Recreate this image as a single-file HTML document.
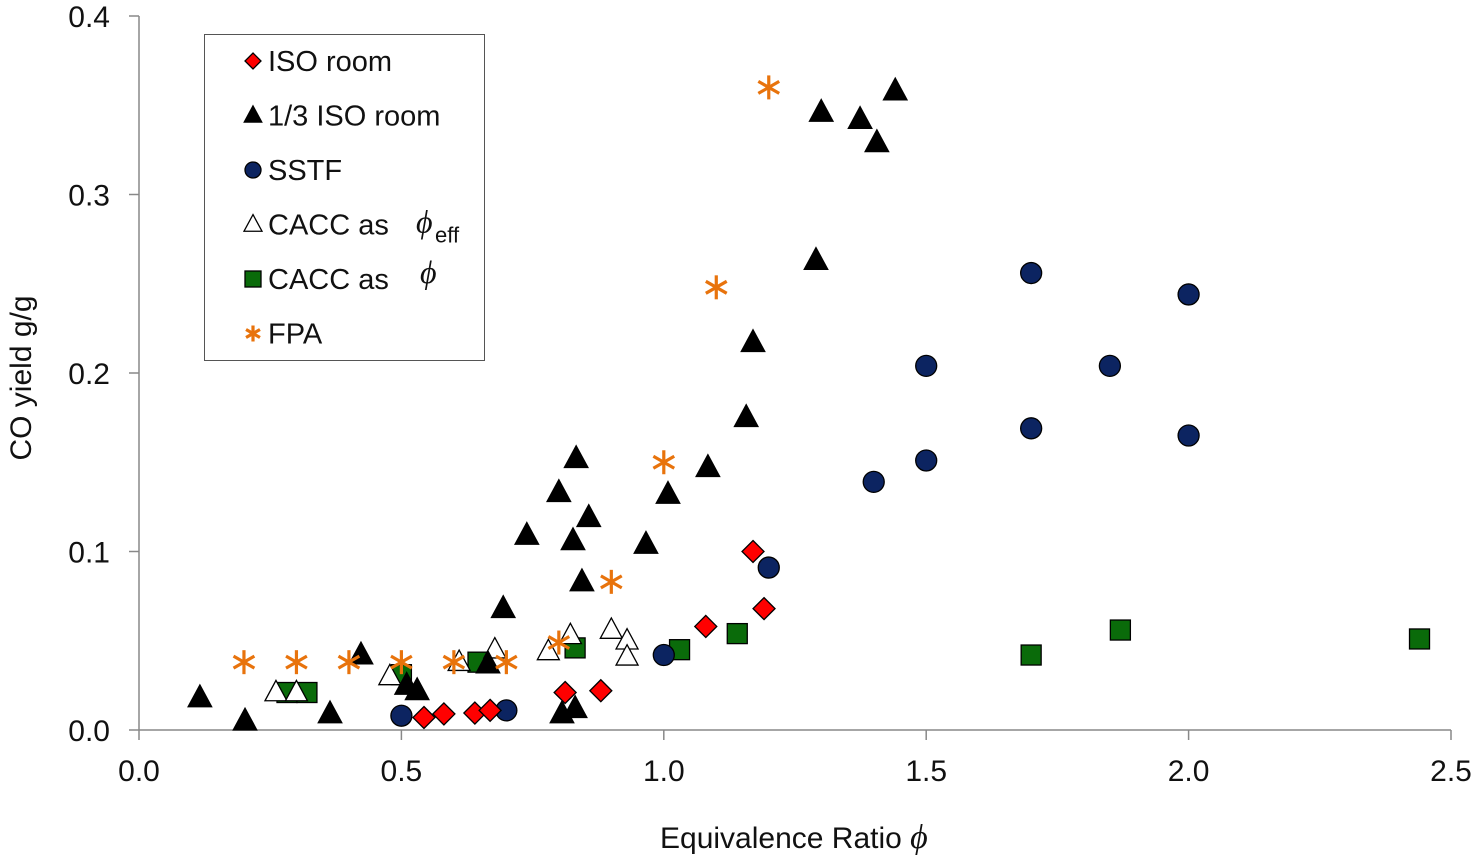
<!DOCTYPE html>
<html><head><meta charset="utf-8"><style>
html,body{margin:0;padding:0;background:#fff;}
svg{display:block;font-family:"Liberation Sans",sans-serif;}
</style></head><body>
<svg id="chart" width="1475" height="858" viewBox="0 0 1475 858" xmlns="http://www.w3.org/2000/svg">
<g id="axes"></g>
<g id="marks"></g>
<text transform="translate(31,378) rotate(-90)" text-anchor="middle" font-size="30" fill="#111">CO yield g/g</text>
<text x="660" y="848" font-size="30" fill="#111">Equivalence Ratio <tspan font-family="Liberation Serif" font-style="italic" font-size="34">ϕ</tspan></text>
<g>
<rect x="204.5" y="34.5" width="280" height="326" fill="#fff" stroke="#555" stroke-width="1"/>
<g id="legend-items"></g>
</g>
</svg>
<script>
const xTicks=[0.0,0.5,1.0,1.5,2.0,2.5];
const yTicks=[0.0,0.1,0.2,0.3,0.4];
const xTickLabels=["0.0","0.5","1.0","1.5","2.0","2.5"];
const yTickLabels=["0.0","0.1","0.2","0.3","0.4"];

const isoX=[0.543,0.581,0.640,0.669,0.812,0.880,1.080,1.170,1.191];
const isoY=[0.007,0.009,0.0095,0.011,0.021,0.022,0.058,0.100,0.068];

const thirdX=[0.116,0.202,0.364,0.423,0.51,0.53,0.665,0.694,0.739,0.800,0.827,0.833,0.844,0.857,0.806,0.831,0.966,1.008,1.084,1.157,1.170,1.290,1.300,1.374,1.406,1.441];
const thirdY=[0.018,0.005,0.009,0.042,0.025,0.022,0.037,0.068,0.109,0.133,0.106,0.152,0.083,0.119,0.009,0.012,0.104,0.132,0.147,0.175,0.217,0.263,0.346,0.342,0.329,0.358];

const sstfX=[0.50,0.70,1.0,1.2,1.40,1.5,1.5,1.7,1.7,1.85,2.0,2.0];
const sstfY=[0.008,0.011,0.042,0.091,0.139,0.151,0.204,0.169,0.256,0.204,0.165,0.244];

const caccEffX=[0.261,0.30,0.478,0.61,0.678,0.78,0.822,0.90,0.93,0.93];
const caccEffY=[0.021,0.021,0.030,0.038,0.045,0.044,0.053,0.056,0.050,0.041];

const caccX=[0.282,0.32,0.50,0.646,0.831,1.03,1.14,1.70,1.87,2.44];
const caccY=[0.021,0.021,0.031,0.038,0.046,0.045,0.054,0.042,0.056,0.051];

const fpaX=[0.2,0.3,0.4,0.5,0.6,0.7,0.8,0.9,1.0,1.1,1.2];
const fpaY=[0.038,0.038,0.038,0.038,0.038,0.038,0.049,0.083,0.150,0.248,0.360];

const NS="http://www.w3.org/2000/svg";
const X0=139,X1=1451,Y0=730,Y1=16;
const sx=v=>X0+(v-0)/(2.5-0)*(X1-X0);
const sy=v=>Y0-(v-0)/(0.4-0)*(Y0-Y1);
function mk(tag,attrs,parent){const e=document.createElementNS(NS,tag);for(const k in attrs)e.setAttribute(k,attrs[k]);parent.appendChild(e);return e;}

const axes=document.getElementById('axes');
let l=mk('line',{x1:X0,y1:Y1,x2:X0,y2:Y0,stroke:'#888','stroke-width':1.5},axes);


l=mk('line',{x1:X0,y1:Y0,x2:X1,y2:Y0,stroke:'#888','stroke-width':1.5},axes);


xTicks.forEach((t,i)=>{
  const tk=mk('line',{x1:sx(t),y1:Y0,x2:sx(t),y2:Y0+10,stroke:'#888','stroke-width':1.5},axes);
  
  
  const tx=mk('text',{x:sx(t),y:Y0+51,'text-anchor':'middle','font-size':30,fill:'#111'},axes);
  tx.textContent=xTickLabels[i];
  
  
});
yTicks.forEach((t,i)=>{
  const tk=mk('line',{x1:X0-10,y1:sy(t),x2:X0,y2:sy(t),stroke:'#888','stroke-width':1.5},axes);
  
  
  const tx=mk('text',{x:X0-29,y:sy(t)+11,'text-anchor':'end','font-size':30,fill:'#111'},axes);
  tx.textContent=yTickLabels[i];
  
  
});

function marker(type,cx,cy,s,parent){
  let e;
  if(type==='diamond'){e=mk('polygon',{points:`${cx},${cy-s} ${cx+s},${cy} ${cx},${cy+s} ${cx-s},${cy}`,fill:'#ff0000',stroke:'#000','stroke-width':1.3},parent);}
  else if(type==='tri'){e=mk('polygon',{points:`${cx},${cy-s*1.1} ${cx+s},${cy+s*0.75} ${cx-s},${cy+s*0.75}`,fill:'#000',stroke:'#000','stroke-width':1},parent);}
  else if(type==='otri'){e=mk('polygon',{points:`${cx},${cy-s*1.1} ${cx+s},${cy+s*0.75} ${cx-s},${cy+s*0.75}`,fill:'#fff',stroke:'#000','stroke-width':1.3},parent);}
  else if(type==='circle'){e=mk('circle',{cx:cx,cy:cy,r:s,fill:'#0c2461',stroke:'#000','stroke-width':1.3},parent);}
  else if(type==='square'){e=mk('rect',{x:cx-s,y:cy-s,width:2*s,height:2*s,fill:'#0a6b0a',stroke:'#000','stroke-width':1.3},parent);}
  else {const g=mk('g',{stroke:'#e8730c','stroke-width':3.2,'stroke-linecap':'butt'},parent);
    mk('line',{x1:cx,y1:cy-s,x2:cx,y2:cy+s},g);
    mk('line',{x1:cx-s*0.87,y1:cy-s*0.5,x2:cx+s*0.87,y2:cy+s*0.5},g);
    mk('line',{x1:cx-s*0.87,y1:cy+s*0.5,x2:cx+s*0.87,y2:cy-s*0.5},g);e=g;}
  return e;
}
const marks=document.getElementById('marks');
const series=[
  ['square',caccX,caccY,10,'cacc-phi-point'],
  ['otri',caccEffX,caccEffY,11,'cacc-phi-eff-point'],
  ['tri',thirdX,thirdY,12,'third-iso-room-point'],
  ['circle',sstfX,sstfY,10.5,'sstf-point'],
  ['diamond',isoX,isoY,11,'iso-room-point'],
  ['star',fpaX,fpaY,12,'fpa-point']
];
series.forEach(([t,xs,ys,s,name])=>{
  xs.forEach((x,i)=>{
    const e=marker(t,sx(x),sy(ys[i]),s,marks);
    
    
  });
});

const leg=document.getElementById('legend-items');
const legendItems=[['diamond','ISO room',8,'legend-iso-room'],['tri','1/3 ISO room',9,'legend-third-iso-room'],['circle','SSTF',8,'legend-sstf'],['otri','CACC as',9,'legend-cacc-phi-eff'],['square','CACC as',8,'legend-cacc-phi'],['star','FPA',8,'legend-fpa']];
legendItems.forEach(([t,txt,s,name],i)=>{
  const y=61+i*54.5;
  const g=mk('g',{},leg);
  
  
  marker(t,253,y,s,g);
  const tx=mk('text',{x:268,y:y+10,'font-size':29,fill:'#111'},g);
  tx.textContent=txt;
});
let p=mk('text',{x:416,y:61+3*54.5+8,'font-size':32,'font-family':'Liberation Serif','font-style':'italic',fill:'#111'},leg);
p.textContent='ϕ';


let sub=mk('text',{x:435,y:61+3*54.5+18,'font-size':22,fill:'#111'},leg);
sub.textContent='eff';


p=mk('text',{x:420,y:61+4*54.5+4,'font-size':32,'font-family':'Liberation Serif','font-style':'italic',fill:'#111'},leg);
p.textContent='ϕ';


</script>
</body></html>
